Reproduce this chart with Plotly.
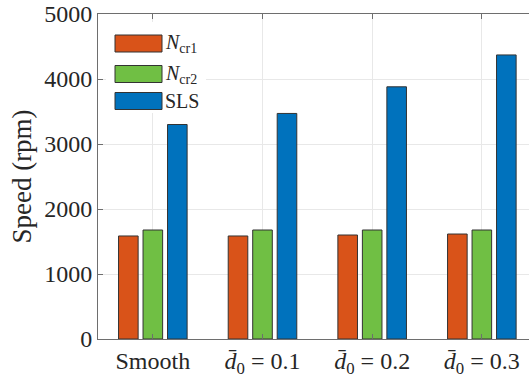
import plotly.graph_objects as go

# Grouped speeds per rotor configuration
categories = ["Smooth", "d0.1", "d0.2", "d0.3"]
tick_labels = [
    "Smooth",
    "<i>d\u0304</i><sub>0</sub> = 0.1",
    "<i>d\u0304</i><sub>0</sub> = 0.2",
    "<i>d\u0304</i><sub>0</sub> = 0.3",
]
n_cr1 = [1585, 1585, 1600, 1615]
n_cr2 = [1677, 1677, 1677, 1677]
sls = [3300, 3470, 3880, 4370]

series_names = ["<i>N</i><sub>cr1</sub>", "<i>N</i><sub>cr2</sub>", "SLS"]
series_values = [n_cr1, n_cr2, sls]
series_colors = ["#D95319", "#70BF44", "#0072BD"]

x_pos = [1, 2, 3, 4]

fig = go.Figure()
for name, vals, col in zip(series_names, series_values, series_colors):
    fig.add_trace(go.Bar(
        x=x_pos, y=vals, name=name,
        marker=dict(color=col, line=dict(color="#333333", width=1)),
        showlegend=False,
    ))

font_family = "Liberation Serif"
axis_color = "#6e6e6e"
text_color = "#262626"

fig.update_layout(
    width=529, height=378,
    margin=dict(l=98, r=0, t=14, b=39),
    paper_bgcolor="white", plot_bgcolor="white",
    barmode="group", bargap=0.33, bargroupgap=0.2,
    font=dict(family=font_family, size=24, color=text_color),
    xaxis=dict(
        range=[0.5, 4.43], tickmode="array", tickvals=x_pos, ticktext=tick_labels,
        showgrid=True, gridcolor="#e8e8e8", gridwidth=1,
        showline=True, linecolor=axis_color, linewidth=1, mirror="ticks",
        ticks="inside", ticklen=5, tickcolor=axis_color,
        tickfont=dict(size=24, family=font_family, color=text_color),
        zeroline=False,
    ),
    yaxis=dict(
        range=[0, 5000], tickvals=[0, 1000, 2000, 3000, 4000, 5000],
        showgrid=True, gridcolor="#e8e8e8", gridwidth=1,
        showline=True, linecolor=axis_color, linewidth=1, mirror=False,
        ticks="inside", ticklen=5, tickcolor=axis_color,
        tickfont=dict(size=24, family=font_family, color=text_color),
        title=dict(text="Speed (rpm)", font=dict(size=27, family=font_family, color=text_color), standoff=4),
        zeroline=False,
    ),
)

# Legend drawn as patches with labels on a white panel
x0_px, x1_px = 115, 162
plot_w, plot_h = 529 - 98, 378 - 14 - 39
def px_x(px):
    return (px - 98) / plot_w
def px_y(py):
    return 1 - (py - 14) / plot_h

shapes = [dict(type="rect", xref="paper", yref="paper",
               x0=px_x(106), x1=px_x(206), y0=px_y(113), y1=px_y(22),
               fillcolor="white", line=dict(width=0), layer="above")]
centers = [43.5, 74, 101]
for cy, name, col in zip(centers, series_names, series_colors):
    shapes.append(dict(type="rect", xref="paper", yref="paper",
                       x0=px_x(x0_px), x1=px_x(x1_px),
                       y0=px_y(cy + 8.5), y1=px_y(cy - 8.5),
                       fillcolor=col, line=dict(color="#333333", width=1), layer="above"))
    fig.add_annotation(xref="paper", yref="paper", x=px_x(163), y=px_y(cy),
                       text=name, showarrow=False, xanchor="left", yanchor="middle",
                       font=dict(size=20, family=font_family, color=text_color))
fig.update_layout(shapes=shapes)

fig.write_html("out.html")
